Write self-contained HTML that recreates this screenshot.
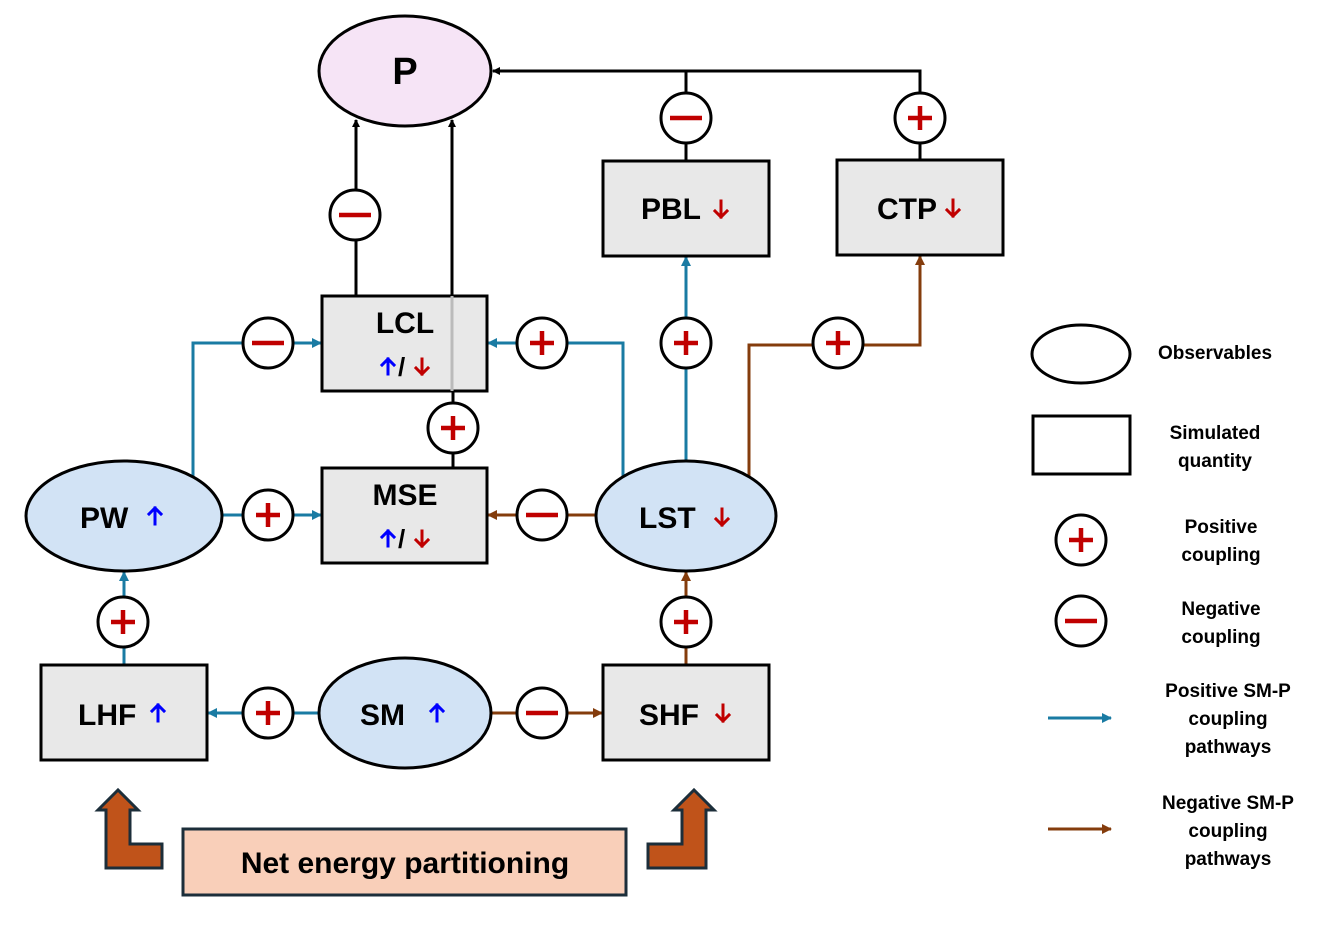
<!DOCTYPE html><html><head><style>body{margin:0;background:#fff}svg{display:block}text{font-family:"Liberation Sans",sans-serif;font-weight:bold}</style></head><body>
<svg width="1329" height="925" viewBox="0 0 1329 925" xmlns="http://www.w3.org/2000/svg">
<defs>
<marker id="ak" markerWidth="8" markerHeight="8" refX="7" refY="4" orient="auto" markerUnits="userSpaceOnUse"><path d="M0,0L8,4L0,8z" fill="#000"/></marker>
<marker id="ab" markerWidth="10" markerHeight="10" refX="9" refY="5" orient="auto" markerUnits="userSpaceOnUse"><path d="M0,0L10,5L0,10z" fill="#1a7ba3"/></marker>
<marker id="ar" markerWidth="10" markerHeight="10" refX="9" refY="5" orient="auto" markerUnits="userSpaceOnUse"><path d="M0,0L10,5L0,10z" fill="#843c0c"/></marker>
</defs>
<g fill="none" stroke-width="3">
<g stroke="#000">
<path d="M686,161V71M920,160V71H493" marker-end="url(#ak)"/>
<path d="M356,296V120" marker-end="url(#ak)"/>
<path d="M452,296V120" marker-end="url(#ak)"/>
<path d="M453,391V468"/>
</g>
<g stroke="#1a7ba3">
<path d="M193,477V343H321" marker-end="url(#ab)"/>
<path d="M623,477V343H488" marker-end="url(#ab)"/>
<path d="M222,515H321" marker-end="url(#ab)"/>
<path d="M686,461V257" marker-end="url(#ab)"/>
<path d="M124,665V572" marker-end="url(#ab)"/>
<path d="M319,713H208" marker-end="url(#ab)"/>
<path d="M1048,718H1111" marker-end="url(#ab)"/>
</g>
<g stroke="#843c0c">
<path d="M596,515H488" marker-end="url(#ar)"/>
<path d="M749,477V345H920V256" marker-end="url(#ar)"/>
<path d="M686,665V572" marker-end="url(#ar)"/>
<path d="M491,713H602" marker-end="url(#ar)"/>
<path d="M1048,829H1111" marker-end="url(#ar)"/>
</g>
</g>
<g stroke="#000" stroke-width="3">
<ellipse cx="405" cy="71" rx="86" ry="55" fill="#f6e4f6"/>
<ellipse cx="124" cy="516" rx="98" ry="55" fill="#d2e3f5"/>
<ellipse cx="686" cy="516" rx="90" ry="55" fill="#d2e3f5"/>
<ellipse cx="405" cy="713" rx="86" ry="55" fill="#d2e3f5"/>
<g fill="#e8e8e8">
<rect x="322" y="296" width="165" height="95"/>
<rect x="322" y="468" width="165" height="95"/>
<rect x="603" y="161" width="166" height="95"/>
<rect x="837" y="160" width="166" height="95"/>
<rect x="41" y="665" width="166" height="95"/>
<rect x="603" y="665" width="166" height="95"/>
</g>
<ellipse cx="1081" cy="354" rx="49" ry="29" fill="#fff"/>
<rect x="1033" y="416" width="97" height="58" fill="#fff"/>
</g>
<path d="M452,296V391" stroke="#bbb" stroke-width="3"/>
<g stroke="#000" stroke-width="3" fill="#fff">
<circle cx="355" cy="215" r="25"/><circle cx="268" cy="343" r="25"/><circle cx="542" cy="343" r="25"/><circle cx="453" cy="428" r="25"/><circle cx="268" cy="515" r="25"/><circle cx="542" cy="515" r="25"/><circle cx="686" cy="343" r="25"/><circle cx="838" cy="343" r="25"/><circle cx="686" cy="118" r="25"/><circle cx="920" cy="118" r="25"/><circle cx="123" cy="622" r="25"/><circle cx="686" cy="622" r="25"/><circle cx="268" cy="713" r="25"/><circle cx="542" cy="713" r="25"/><circle cx="1081" cy="540" r="25"/><circle cx="1081" cy="621" r="25"/>
</g>
<g stroke="#c00000" stroke-width="4.5">
<path d="M339,215h32M252,343h32M526,515h32M670,118h32M526,713h32M1065,621h32"/>
<path d="M530,343h24M542,331v24M441,428h24M453,416v24M256,515h24M268,503v24M674,343h24M686,331v24M826,343h24M838,331v24M908,118h24M920,106v24M111,622h24M123,610v24M674,622h24M686,610v24M256,713h24M268,701v24M1069,540h24M1081,528v24"/>
</g>
<g stroke="#1c2e3a" stroke-width="3" fill="#c0531a">
<path d="M106,868V810H98L118,790L138,810H130V844H162V868Z"/>
<path d="M706,868V810H714L694,790L674,810H682V844H648V868Z"/>
</g>
<rect x="183" y="829" width="443" height="66" fill="#f9cfb9" stroke="#1c2e3a" stroke-width="3"/>
<text x="405" y="873" font-size="30" text-anchor="middle">Net energy partitioning</text>
<text x="405" y="84" font-size="38" text-anchor="middle">P</text>
<g font-size="30">
<text x="405" y="333" text-anchor="middle">LCL</text>
<text x="405" y="505" text-anchor="middle">MSE</text>
<text x="641" y="219">PBL</text>
<text x="877" y="219">CTP</text>
<text x="80" y="528">PW</text>
<text x="639" y="528">LST</text>
<text x="78" y="725">LHF</text>
<text x="360" y="725">SM</text>
<text x="639" y="725">SHF</text>
<text x="398" y="376" font-size="26">/</text>
<text x="398" y="548" font-size="26">/</text>
</g>
<g fill="none" stroke-width="3" stroke-linecap="square">
<g stroke="#0000ff">
<path d="M155,508v16M149,514l6,-6l6,6"/>
<path d="M158,705v16M152,711l6,-6l6,6"/>
<path d="M437,705v16M431,711l6,-6l6,6"/>
<path d="M388,359v15M382,365l6,-6l6,6"/>
<path d="M388,531v15M382,537l6,-6l6,6"/>
</g>
<g stroke="#c00000">
<path d="M721,201v16M715,211l6,6l6,-6"/>
<path d="M953,200v16M947,210l6,6l6,-6"/>
<path d="M722,509v16M716,519l6,6l6,-6"/>
<path d="M723,705v16M717,715l6,6l6,-6"/>
<path d="M422,359v15M416,368l6,6l6,-6"/>
<path d="M422,531v15M416,540l6,6l6,-6"/>
</g>
</g>
<g font-size="19" text-anchor="middle">
<text x="1215" y="359">Observables</text>
<text x="1215" y="439">Simulated</text><text x="1215" y="467">quantity</text>
<text x="1221" y="533">Positive</text><text x="1221" y="561">coupling</text>
<text x="1221" y="615">Negative</text><text x="1221" y="643">coupling</text>
<text x="1228" y="697">Positive SM-P</text><text x="1228" y="725">coupling</text><text x="1228" y="753">pathways</text>
<text x="1228" y="809">Negative SM-P</text><text x="1228" y="837">coupling</text><text x="1228" y="865">pathways</text>
</g>
</svg></body></html>
